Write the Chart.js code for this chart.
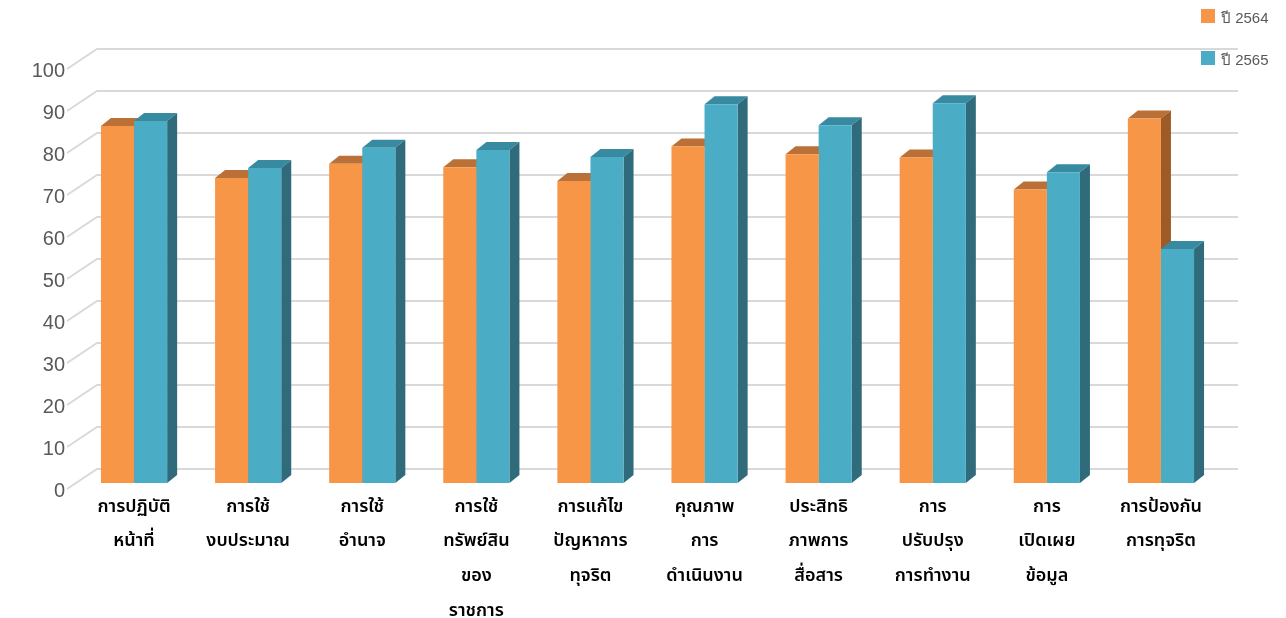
<!DOCTYPE html>
<html>
<head>
<meta charset="utf-8">
<script src="https://cdn.jsdelivr.net/npm/chart.js@4"></script>
<style>
  html, body { margin: 0; padding: 0; background: #fff; }
  #wrap { position: relative; width: 1286px; height: 618px; }
  #legend { position: absolute; left: 1201px; top: 6px; font-family: Arial, "Liberation Sans", sans-serif; font-size: 15px; color: #595959; }
  #legend div { height: 42px; display: flex; align-items: flex-start; }
  #legend span.box { display: inline-block; width: 14px; height: 14px; margin-right: 6px; margin-top: 3px; }
</style>
</head>
<body>
<div id="wrap">
  <canvas id="chart" width="1286" height="618"></canvas>
  <div id="legend"></div>
</div>
<script>
const categories = [
    ['การปฏิบัติ', 'หน้าที่'],
    ['การใช้', 'งบประมาณ'],
    ['การใช้', 'อำนาจ'],
    ['การใช้', 'ทรัพย์สิน', 'ของ', 'ราชการ'],
    ['การแก้ไข', 'ปัญหาการ', 'ทุจริต'],
    ['คุณภาพ', 'การ', 'ดำเนินงาน'],
    ['ประสิทธิ', 'ภาพการ', 'สื่อสาร'],
    ['การ', 'ปรับปรุง', 'การทำงาน'],
    ['การ', 'เปิดเผย', 'ข้อมูล'],
    ['การป้องกัน', 'การทุจริต']
];
const seriesNames = ['ปี 2564', 'ปี 2565'];
const values2564 = [85.0, 72.6, 76.0, 75.2, 71.9, 80.1, 78.3, 77.5, 69.9, 86.8];
const values2565 = [86.2, 75.0, 79.8, 79.3, 77.6, 90.2, 85.2, 90.4, 74.0, 55.7];
const yTicks = [0, 10, 20, 30, 40, 50, 60, 70, 80, 90, 100];

const faceColors = ['#F79646', '#4BACC6'];
const topColors = ['#BA7036', '#378AA0'];
const sideColors = ['#9E5A27', '#2F6B7B'];

// depth of each bar and of the back wall
const barDX = 10, barDY = -8;
const wallDX = 30, wallDY = -20;

const depthPlugin = {
    id: 'depth',
    beforeDatasetsDraw(chart) {
        const ctx = chart.ctx;
        const y = chart.scales.y;
        const area = chart.chartArea;
        ctx.save();
        // back wall gridlines
        ctx.strokeStyle = '#D9D9D9';
        ctx.lineWidth = 2;
        yTicks.forEach(v => {
            const py = y.getPixelForValue(v) + 6;
            ctx.beginPath();
            ctx.moveTo(area.left - 10, py);
            ctx.lineTo(area.left - 10 + wallDX, py + wallDY);
            ctx.lineTo(area.right + 20, py + wallDY);
            ctx.stroke();
        });
        // bar tops and sides, orange then blue per category
        const metas = [chart.getDatasetMeta(0), chart.getDatasetMeta(1)];
        for (let i = 0; i < categories.length; i++) {
            metas.forEach((meta, d) => {
                const bar = meta.data[i];
                const l = bar.x - bar.width / 2, r = bar.x + bar.width / 2;
                const t = bar.y, b = bar.base;
                ctx.fillStyle = topColors[d];
                ctx.beginPath();
                ctx.moveTo(l, t);
                ctx.lineTo(l + barDX, t + barDY);
                ctx.lineTo(r + barDX, t + barDY);
                ctx.lineTo(r, t);
                ctx.closePath();
                ctx.fill();
                ctx.fillStyle = sideColors[d];
                ctx.beginPath();
                ctx.moveTo(r, t);
                ctx.lineTo(r + barDX, t + barDY);
                ctx.lineTo(r + barDX, b + barDY);
                ctx.lineTo(r, b);
                ctx.closePath();
                ctx.fill();
            });
        }
        ctx.restore();
    }
};

const chart = new Chart(document.getElementById('chart').getContext('2d'), {
    type: 'bar',
    data: {
        labels: categories,
        datasets: [
            { label: seriesNames[0], data: values2564, backgroundColor: faceColors[0] },
            { label: seriesNames[1], data: values2565, backgroundColor: faceColors[1] }
        ]
    },
    options: {
        responsive: false,
        animation: false,
        layout: { padding: { left: 0, right: 68, top: 63, bottom: 0 } },
        datasets: { bar: { categoryPercentage: 0.58, barPercentage: 1.0 } },
        scales: {
            x: {
                grid: { display: false },
                border: { display: false },
                ticks: {
                    autoSkip: false,
                    maxRotation: 0,
                    padding: 0,
                    color: '#000',
                    font: { family: 'Tahoma, "Noto Sans Thai", "DejaVu Sans", sans-serif', size: 18, weight: '600', lineHeight: 1.92 }
                },
                afterFit(scale) { scale.height = 135; }
            },
            y: {
                min: 0,
                max: 100,
                grid: { display: false, drawTicks: false },
                border: { display: false },
                ticks: {
                    stepSize: 10,
                    padding: 12,
                    labelOffset: 8,
                    color: '#595959',
                    font: { family: 'Arial, "Liberation Sans", sans-serif', size: 20 }
                },
                afterFit(scale) { scale.width = 77; }
            }
        },
        plugins: {
            legend: { display: false },
            tooltip: { enabled: false }
        }
    },
    plugins: [depthPlugin]
});

const legendEl = document.getElementById('legend');
seriesNames.forEach((name, i) => {
    const row = document.createElement('div');
    const box = document.createElement('span');
    box.className = 'box';
    box.style.background = faceColors[i];
    row.appendChild(box);
    row.appendChild(document.createTextNode(name));
    legendEl.appendChild(row);
});
</script>
</body>
</html>
